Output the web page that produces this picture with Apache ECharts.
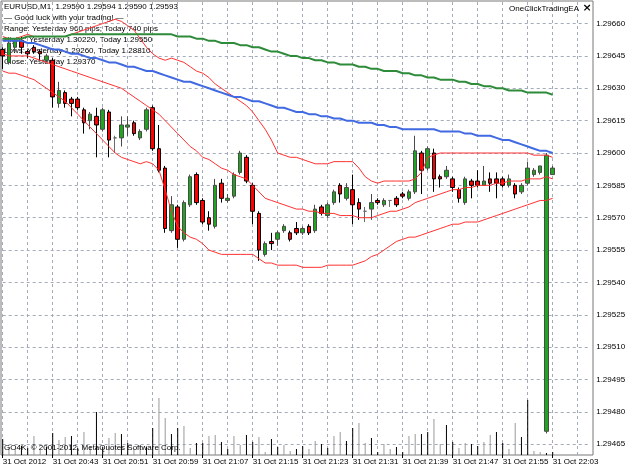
<!DOCTYPE html>
<html>
<head>
<meta charset="utf-8">
<script src="https://cdn.jsdelivr.net/npm/echarts@6/dist/echarts.min.js"></script>
<style>
  html, body { margin: 0; padding: 0; background: #fff; }
  #chart { width: 625px; height: 469px; }
</style>
</head>
<body>
<div id="chart"></div>
<script>
// EURUSD M1, 31 Oct 2012 20:35 - 22:03, plus empty slots for the chart shift
const times = [
  '20:35','20:36','20:37','20:38','20:39','20:40','20:41','20:42','20:43','20:44',
  '20:45','20:46','20:47','20:48','20:49','20:50','20:51','20:52','20:53','20:54',
  '20:55','20:56','20:57','20:58','20:59','21:00','21:01','21:02','21:03','21:04',
  '21:05','21:06','21:07','21:08','21:09','21:10','21:11','21:12','21:13','21:14',
  '21:15','21:16','21:17','21:18','21:19','21:20','21:21','21:22','21:23','21:24',
  '21:25','21:26','21:27','21:28','21:29','21:30','21:31','21:32','21:33','21:34',
  '21:35','21:36','21:37','21:38','21:39','21:40','21:41','21:42','21:43','21:44',
  '21:45','21:46','21:47','21:48','21:49','21:50','21:51','21:52','21:53','21:54',
  '21:55','21:56','21:57','21:58','21:59','22:00','22:01','22:02','22:03',
  '22:04','22:05','22:06','22:07','22:08','22:09'
];

const open = [
  1.29648,1.29642,1.29649,1.29652,1.29647,1.29649,1.29647,1.29643,1.29643,1.29623,
  1.29628,1.29625,1.29625,1.29620,1.29615,1.29617,1.29611,1.29619,1.29607,1.29607,
  1.29612,1.29614,1.29607,1.29611,1.29621,1.29602,1.29593,1.29564,1.29575,1.29560,
  1.29576,1.29590,1.29578,1.29570,1.29566,1.29586,1.29578,1.29580,1.29591,1.29598,
  1.29585,1.29572,1.29553,1.29559,1.29560,1.29564,1.29563,1.29565,1.29563,1.29566,
  1.29564,1.29575,1.29571,1.29577,1.29585,1.29579,1.29583,1.29577,1.29573,1.29574,
  1.29578,1.29576,1.29578,1.29579,1.29581,1.29579,1.29582,1.29600,1.29593,1.29600,
  1.29589,1.29589,1.29588,1.29583,1.29577,1.29587,1.29587,1.29585,1.29588,1.29588,
  1.29588,1.29585,1.29585,1.29582,1.29586,1.29590,1.29591,1.29471,1.29590
];
const close = [
  1.29645,1.29651,1.29652,1.29649,1.29646,1.29647,1.29646,1.29645,1.29626,1.29629,
  1.29623,1.29623,1.29621,1.29614,1.29618,1.29613,1.29620,1.29606,1.29607,1.29613,
  1.29613,1.29609,1.29610,1.29620,1.29602,1.29592,1.29565,1.29576,1.29560,1.29577,
  1.29589,1.29577,1.29568,1.29567,1.29585,1.29579,1.29579,1.29590,1.29600,1.29587,
  1.29573,1.29555,1.29558,1.29558,1.29563,1.29566,1.29560,1.29563,1.29565,1.29563,
  1.29574,1.29572,1.29576,1.29582,1.29581,1.29584,1.29576,1.29574,1.29573,1.29577,
  1.29577,1.29578,1.29578,1.29576,1.29580,1.29582,1.29601,1.29592,1.29602,1.29588,
  1.29588,1.29592,1.29584,1.29579,1.29588,1.29585,1.29585,1.29587,1.29586,1.29586,
  1.29585,1.29588,1.29581,1.29585,1.29593,1.29592,1.29594,1.29599,1.29593
];
const low = [
  1.29639,1.29641,1.29647,1.29646,1.29644,1.29646,1.29643,1.29642,1.29621,1.29621,
  1.29621,1.29617,1.29620,1.29609,1.29611,1.29598,1.29610,1.29598,1.29600,1.29603,
  1.29608,1.29608,1.29606,1.29610,1.29601,1.29591,1.29563,1.29563,1.29556,1.29559,
  1.29575,1.29576,1.29567,1.29564,1.29565,1.29577,1.29577,1.29579,1.29590,1.29586,
  1.29567,1.29550,1.29552,1.29555,1.29557,1.29563,1.29559,1.29562,1.29562,1.29562,
  1.29563,1.29571,1.29570,1.29576,1.29577,1.29578,1.29567,1.29569,1.29568,1.29569,
  1.29576,1.29575,1.29575,1.29575,1.29579,1.29578,1.29581,1.29581,1.29592,1.29582,
  1.29584,1.29588,1.29582,1.29577,1.29576,1.29579,1.29584,1.29585,1.29582,1.29579,
  1.29584,1.29584,1.29579,1.29581,1.29585,1.29589,1.29590,1.29470,1.29590
];
const high = [
  1.29649,1.29652,1.29653,1.29654,1.29648,1.29650,1.29648,1.29646,1.29644,1.29633,
  1.29629,1.29626,1.29626,1.29621,1.29619,1.29621,1.29621,1.29620,1.29608,1.29617,
  1.29617,1.29615,1.29611,1.29621,1.29622,1.29613,1.29594,1.29580,1.29576,1.29578,
  1.29590,1.29591,1.29579,1.29573,1.29588,1.29588,1.29581,1.29591,1.29601,1.29599,
  1.29586,1.29573,1.29559,1.29563,1.29564,1.29567,1.29564,1.29568,1.29566,1.29567,
  1.29576,1.29576,1.29577,1.29583,1.29586,1.29586,1.29590,1.29579,1.29575,1.29581,
  1.29579,1.29579,1.29578,1.29580,1.29582,1.29583,1.29608,1.29601,1.29603,1.29602,
  1.29590,1.29594,1.29589,1.29584,1.29589,1.29588,1.29592,1.29594,1.29591,1.29591,
  1.29589,1.29590,1.29586,1.29586,1.29596,1.29593,1.29594,1.29600,1.29594
];
// tick volumes
const volume = [
  16,8,6,9,7,19,5,8,22,15,
  18,19,7,23,9,43,8,17,22,21,
  12,6,9,8,27,57,37,21,27,29,
  7,12,12,19,20,13,6,19,10,20,
  13,18,3,16,8,10,4,6,9,6,
  14,11,7,19,23,14,27,32,12,17,
  3,11,6,8,3,19,21,21,23,36,
  11,30,13,7,12,11,9,13,20,23,
  12,6,32,18,55,4,3,2,3
];

// Bollinger bands (red)
const bbUpper = [
  1.29654,1.29653,1.29653,1.29654,1.29655,1.29654,1.29654,1.29654,1.29654,1.29654,
  1.29654,1.29655,1.29656,1.29657,1.29658,1.29659,1.29660,1.29661,1.29662,1.29661,
  1.29659,1.29657,1.29653,1.29649,1.29646,1.29644,1.29643,1.29644,1.29643,1.29642,
  1.29640,1.29638,1.29637,1.29635,1.29632,1.29630,1.29628,1.29626,1.29624,1.29622,
  1.29619,1.29615,1.29611,1.29606,1.29600,1.29599,1.29598,1.29598,1.29597,1.29596,
  1.29595,1.29595,1.29595,1.29596,1.29596,1.29596,1.29596,1.29593,1.29589,1.29587,
  1.29586,1.29587,1.29587,1.29587,1.29587,1.29587,1.29588,1.29591,1.29598,1.29599,
  1.29600,1.29600,1.29600,1.29600,1.29600,1.29600,1.29600,1.29600,1.29600,1.29600,
  1.29600,1.29600,1.29600,1.29600,1.29600,1.29599,1.29599,1.29599,1.29598
];
const bbMiddle = [
  1.29646,1.29645,1.29645,1.29645,1.29645,1.29644,1.29643,1.29642,1.29641,1.29640,
  1.29639,1.29638,1.29637,1.29636,1.29635,1.29634,1.29633,1.29632,1.29631,1.29630,
  1.29628,1.29626,1.29624,1.29622,1.29620,1.29618,1.29615,1.29612,1.29609,1.29606,
  1.29603,1.29601,1.29598,1.29597,1.29595,1.29593,1.29592,1.29590,1.29589,1.29588,
  1.29585,1.29582,1.29579,1.29578,1.29577,1.29576,1.29575,1.29574,1.29574,1.29573,
  1.29573,1.29572,1.29572,1.29572,1.29571,1.29571,1.29571,1.29570,1.29570,1.29570,
  1.29571,1.29572,1.29573,1.29573,1.29574,1.29575,1.29577,1.29578,1.29579,1.29580,
  1.29581,1.29582,1.29583,1.29583,1.29584,1.29584,1.29585,1.29585,1.29585,1.29586,
  1.29586,1.29587,1.29587,1.29587,1.29588,1.29588,1.29588,1.29589,1.29588
];
const bbLower = [
  1.29638,1.29637,1.29637,1.29636,1.29635,1.29634,1.29632,1.29630,1.29628,1.29626,
  1.29624,1.29621,1.29618,1.29615,1.29612,1.29609,1.29606,1.29603,1.29600,1.29598,
  1.29597,1.29596,1.29595,1.29596,1.29595,1.29592,1.29583,1.29573,1.29566,1.29563,
  1.29561,1.29560,1.29558,1.29555,1.29554,1.29553,1.29553,1.29553,1.29553,1.29553,
  1.29553,1.29551,1.29549,1.29549,1.29548,1.29548,1.29548,1.29548,1.29547,1.29547,
  1.29547,1.29547,1.29548,1.29548,1.29548,1.29548,1.29548,1.29549,1.29550,1.29552,
  1.29553,1.29555,1.29557,1.29559,1.29560,1.29561,1.29561,1.29562,1.29563,1.29564,
  1.29565,1.29566,1.29567,1.29567,1.29568,1.29568,1.29568,1.29569,1.29570,1.29571,
  1.29572,1.29573,1.29574,1.29575,1.29576,1.29577,1.29578,1.29578,1.29579
];
// moving averages
const maBlue = [
  1.29652,1.29652,1.29652,1.29652,1.29651,1.29651,1.29650,1.29649,1.29648,1.29648,
  1.29647,1.29646,1.29646,1.29645,1.29644,1.29644,1.29643,1.29642,1.29642,1.29641,
  1.29640,1.29640,1.29639,1.29638,1.29638,1.29637,1.29636,1.29635,1.29634,1.29633,
  1.29633,1.29632,1.29631,1.29630,1.29629,1.29628,1.29627,1.29626,1.29626,1.29625,
  1.29624,1.29624,1.29623,1.29622,1.29621,1.29621,1.29620,1.29619,1.29619,1.29618,
  1.29618,1.29617,1.29617,1.29616,1.29616,1.29615,1.29615,1.29614,1.29614,1.29614,
  1.29613,1.29613,1.29612,1.29612,1.29611,1.29611,1.29611,1.29611,1.29611,1.29611,
  1.29610,1.29610,1.29610,1.29610,1.29609,1.29609,1.29608,1.29608,1.29608,1.29607,
  1.29606,1.29606,1.29605,1.29604,1.29603,1.29602,1.29601,1.29601,1.29600
];
const maGreen = [
  1.29653,1.29653,1.29653,1.29653,1.29654,1.29654,1.29654,1.29654,1.29654,1.29654,
  1.29654,1.29655,1.29655,1.29655,1.29655,1.29655,1.29655,1.29655,1.29655,1.29655,
  1.29655,1.29655,1.29655,1.29655,1.29655,1.29655,1.29655,1.29655,1.29654,1.29654,
  1.29654,1.29653,1.29653,1.29652,1.29652,1.29651,1.29651,1.29651,1.29650,1.29650,
  1.29649,1.29649,1.29648,1.29647,1.29647,1.29646,1.29645,1.29645,1.29644,1.29644,
  1.29643,1.29643,1.29642,1.29642,1.29641,1.29641,1.29641,1.29640,1.29640,1.29639,
  1.29639,1.29638,1.29638,1.29638,1.29637,1.29637,1.29636,1.29636,1.29635,1.29635,
  1.29634,1.29634,1.29634,1.29633,1.29633,1.29632,1.29632,1.29631,1.29631,1.29630,
  1.29630,1.29629,1.29629,1.29629,1.29628,1.29628,1.29628,1.29628,1.29627
];

const priceTicks = [
  1.29465,1.29480,1.29495,1.29510,1.29525,1.29540,1.29555,
  1.29570,1.29585,1.29600,1.29615,1.29630,1.29645,1.29660
];
const lastPrice = 1.29593;
const hLinePrice = 1.29620;

const infoLines = [
  'EURUSD,M1  1.29590 1.29594 1.29590 1.29593',
  '\u2014 Good luck with your trading! \u2014',
  'Range: Yesterday 960 pips; Today 740 pips',
  'Highs: Yesterday 1.30220, Today 1.29550',
  'Lows: Yesterday 1.29260, Today 1.28810',
  'Close: Yesterday 1.29370'
];

const FONT = 'Liberation Sans';
const candles = open.map((o, i) => [o, close[i], low[i], high[i]]);

const chart = echarts.init(document.getElementById('chart'));

function bandLine(name, data, color, width) {
  return {
    name: name,
    type: 'line',
    data: data,
    symbol: 'none',
    smooth: false,
    silent: true,
    z: 4,
    lineStyle: { color: color, width: width }
  };
}

chart.setOption({
  animation: false,
  backgroundColor: '#ffffff',
  textStyle: { fontFamily: FONT },
  grid: [
    { left: 2.7, right: 34.8, top: 2, bottom: 14, outerBoundsMode: 'none' },
    // chart frame
    { left: 1, right: 32, top: 1, bottom: 14, show: true, borderColor: '#787878', borderWidth: 1, outerBoundsMode: 'none' }
  ],
  xAxis: [{
    type: 'category',
    data: times,
    boundaryGap: false,
    axisLine: { show: false },
    axisTick: { show: true, interval: 7, length: 3, lineStyle: { color: '#000' } },
    axisLabel: {
      interval: 7,
      align: 'left',
      margin: 3,
      fontSize: 8,
      color: '#000',
      fontFamily: FONT,
      formatter: (v, i) => i === 0 ? '31 Oct 2012' : '31 Oct ' + v
    },
    splitLine: {
      show: true,
      interval: 3,
      lineStyle: { color: '#a4acbc', type: [3, 3], width: 1 }
    }
  }],
  yAxis: [{
    type: 'value',
    position: 'right',
    scale: true,
    min: 1.2946,
    max: 1.2967,
    axisLine: { show: false },
    axisTick: { show: false, customValues: priceTicks },
    axisLabel: {
      customValues: priceTicks,
      margin: 6,
      fontSize: 8,
      color: '#000',
      fontFamily: FONT,
      formatter: v => v.toFixed(5)
    },
    splitLine: {
      show: true,
      lineStyle: { color: '#a4acbc', type: [3, 3], width: 1 }
    }
  }, {
    type: 'value',
    min: 0,
    max: 453,
    show: false,
    splitLine: { show: false }
  }],
  series: [
    {
      name: 'Volumes',
      type: 'bar',
      yAxisIndex: 1,
      data: volume,
      barWidth: 1,
      silent: true,
      z: 1,
      itemStyle: {
        color: p => (p.dataIndex % 4 === 1 || p.dataIndex % 4 === 2) ? '#9a9a9a' : '#000000'
      }
    },
    {
      name: 'EURUSD',
      type: 'candlestick',
      data: candles,
      barWidth: 4,
      z: 3,
      itemStyle: {
        color: '#20a520',
        color0: '#ff0000',
        borderColor: '#4a4a4a',
        borderColor0: '#000000',
        borderColorDoji: '#6a6a6a',
        borderWidth: 1
      },
      markLine: {
        silent: true,
        symbol: ['none', 'none'],
        animation: false,
        data: [
          {
            yAxis: lastPrice,
            lineStyle: { color: '#8a96a8', width: 1, type: 'solid' },
            label: {
              show: true,
              position: 'end',
              distance: 3,
              formatter: lastPrice.toFixed(5),
              color: '#ffffff',
              backgroundColor: '#000038',
              padding: [2, 2, 1, 2],
              fontSize: 8,
              fontFamily: FONT
            }
          },
          {
            yAxis: hLinePrice,
            lineStyle: { color: '#ff00ff', width: 1, type: [6, 3, 2, 3] },
            label: { show: false }
          }
        ]
      }
    },
    bandLine('BB upper', bbUpper, '#ff3030', 1),
    bandLine('BB middle', bbMiddle, '#ff3030', 1),
    bandLine('BB lower', bbLower, '#ff3030', 1),
    bandLine('MA blue', maBlue, '#4169e1', 2),
    bandLine('MA green', maGreen, '#2e8b3a', 2)
  ],
  graphic: [
    ...infoLines.map((t, i) => ({
      type: 'text',
      z: 0,
      silent: true,
      style: {
        text: t,
        x: 4,
        y: 3 + i * 11,
        fill: '#000',
        fontSize: 8,
        fontFamily: FONT,
        textVerticalAlign: 'top'
      }
    })),
    {
      type: 'text', z: 10, silent: true,
      style: { text: 'OneClickTradingEA', x: 579, y: 5, fill: '#000', fontSize: 8, fontFamily: FONT, textAlign: 'right', textVerticalAlign: 'top' }
    },
    {
      type: 'text', z: 10, silent: true,
      style: { text: '\u00d7', x: 587, y: 3, fill: '#000', fontSize: 11, fontWeight: 'bold', fontFamily: 'DejaVu Sans', textAlign: 'center', textVerticalAlign: 'top' }
    },
    {
      type: 'text', z: 10, silent: true,
      style: { text: 'GO4K, \u00a9 2001-2012, MetaQuotes Software Corp.', x: 4, y: 444, fill: '#000', fontSize: 8, fontFamily: FONT, textVerticalAlign: 'top' }
    }
  ]
});
</script>
</body>
</html>
